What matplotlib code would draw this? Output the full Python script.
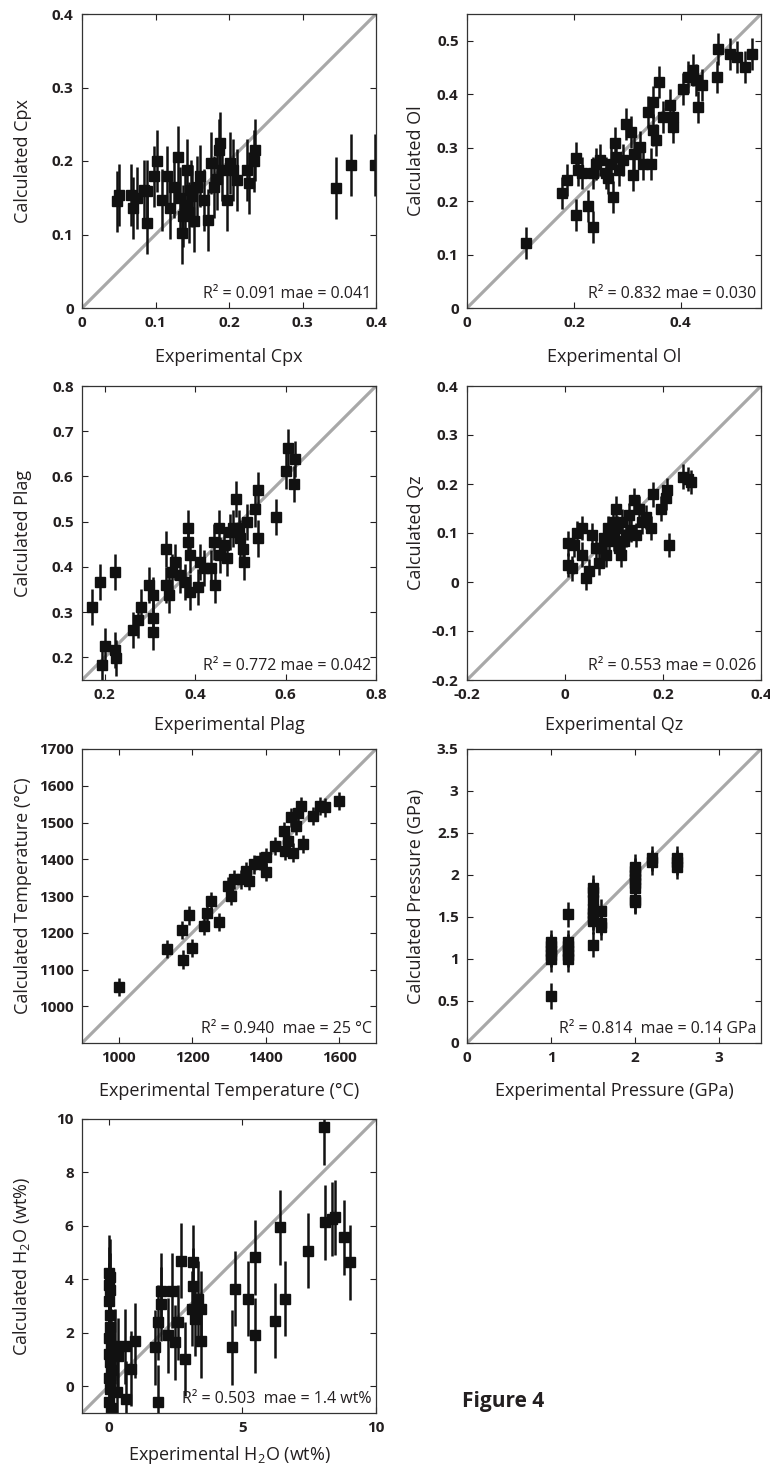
import matplotlib
matplotlib.use('Agg')
import matplotlib.pyplot as plt

plt.rcParams['font.family'] = ['Open Sans', 'DejaVu Sans']
plt.rcParams['mathtext.fontset'] = 'custom'
plt.rcParams['mathtext.rm'] = 'Open Sans'
plt.rcParams['mathtext.it'] = 'Open Sans'
plt.rcParams['mathtext.bf'] = 'Open Sans:bold'

ink = '#231f20'

# --- Cpx ---
cpx_exp = [0.047, 0.050, 0.066, 0.070, 0.075, 0.084, 0.088, 0.088, 0.098, 0.102, 0.109, 0.116,
           0.120, 0.125, 0.131, 0.134, 0.136, 0.138, 0.140, 0.143, 0.145, 0.148, 0.150, 0.152,
           0.156, 0.160, 0.166, 0.172, 0.175, 0.179, 0.183, 0.186, 0.188, 0.190, 0.197, 0.202,
           0.206, 0.211, 0.224, 0.227, 0.234, 0.236, 0.345, 0.366, 0.399]
cpx_calc = [0.145, 0.154, 0.154, 0.136, 0.150, 0.160, 0.159, 0.115, 0.179, 0.200, 0.147, 0.179,
            0.136, 0.165, 0.206, 0.150, 0.102, 0.125, 0.140, 0.188, 0.130, 0.160, 0.152, 0.118,
            0.165, 0.180, 0.147, 0.120, 0.197, 0.165, 0.175, 0.215, 0.224, 0.188, 0.147, 0.197,
            0.188, 0.174, 0.188, 0.170, 0.200, 0.215, 0.163, 0.195, 0.195]
cpx_err = 0.042

# --- Ol ---
ol_exp = [0.110, 0.178, 0.188, 0.204, 0.204, 0.207, 0.216, 0.226, 0.235, 0.235, 0.241, 0.248,
          0.260, 0.263, 0.270, 0.273, 0.276, 0.279, 0.285, 0.291, 0.298, 0.307, 0.310, 0.313,
          0.323, 0.329, 0.339, 0.345, 0.348, 0.348, 0.353, 0.360, 0.367, 0.379, 0.386, 0.386,
          0.404, 0.414, 0.423, 0.429, 0.433, 0.439, 0.467, 0.470, 0.492, 0.505, 0.520, 0.533]
ol_calc = [0.122, 0.215, 0.240, 0.174, 0.280, 0.258, 0.252, 0.190, 0.152, 0.252, 0.270, 0.277,
           0.252, 0.243, 0.270, 0.208, 0.308, 0.283, 0.258, 0.277, 0.345, 0.330, 0.249, 0.289,
           0.302, 0.270, 0.367, 0.270, 0.386, 0.333, 0.314, 0.423, 0.358, 0.379, 0.358, 0.339,
           0.410, 0.432, 0.445, 0.426, 0.376, 0.417, 0.433, 0.485, 0.476, 0.470, 0.451, 0.476]
ol_err = 0.03

# --- Plag ---
plag_exp = [0.172, 0.190, 0.194, 0.200, 0.222, 0.222, 0.226, 0.263, 0.274, 0.281, 0.299, 0.306,
            0.306, 0.306, 0.335, 0.335, 0.342, 0.349, 0.356, 0.367, 0.378, 0.385, 0.385, 0.388,
            0.388, 0.406, 0.410, 0.420, 0.435, 0.442, 0.445, 0.452, 0.455, 0.463, 0.470, 0.477,
            0.484, 0.491, 0.498, 0.500, 0.505, 0.508, 0.515, 0.533, 0.540, 0.540, 0.578, 0.601,
            0.605, 0.619, 0.622]
plag_calc = [0.312, 0.366, 0.184, 0.226, 0.389, 0.217, 0.199, 0.261, 0.283, 0.312, 0.360, 0.338,
             0.287, 0.257, 0.440, 0.360, 0.338, 0.389, 0.411, 0.382, 0.367, 0.485, 0.455, 0.426,
             0.345, 0.356, 0.411, 0.397, 0.397, 0.455, 0.360, 0.485, 0.426, 0.448, 0.419, 0.477,
             0.485, 0.551, 0.485, 0.463, 0.440, 0.411, 0.500, 0.529, 0.569, 0.463, 0.510, 0.613,
             0.664, 0.584, 0.639]
plag_err = 0.04

# --- Qz ---
qz_exp = [0.007, 0.007, 0.015, 0.018, 0.025, 0.035, 0.035, 0.042, 0.049, 0.056, 0.063, 0.070,
          0.073, 0.080, 0.083, 0.087, 0.090, 0.097, 0.100, 0.104, 0.107, 0.110, 0.114, 0.117,
          0.120, 0.124, 0.131, 0.135, 0.141, 0.145, 0.151, 0.158, 0.165, 0.175, 0.179, 0.196,
          0.206, 0.209, 0.213, 0.240, 0.250, 0.257]
qz_calc = [0.079, 0.035, 0.028, 0.076, 0.100, 0.110, 0.056, 0.008, 0.022, 0.096, 0.069, 0.039,
           0.069, 0.089, 0.056, 0.110, 0.083, 0.123, 0.089, 0.150, 0.110, 0.069, 0.056, 0.123,
           0.083, 0.096, 0.137, 0.106, 0.167, 0.096, 0.150, 0.123, 0.133, 0.110, 0.179, 0.150,
           0.171, 0.188, 0.076, 0.215, 0.210, 0.204]
qz_err = 0.025

# --- Temperature ---
t_exp = [1000, 1131, 1172, 1175, 1190, 1200, 1232, 1241, 1250, 1273, 1296, 1305, 1314, 1332,
         1346, 1355, 1369, 1383, 1401, 1401, 1424, 1451, 1453, 1460, 1469, 1474, 1483, 1487,
         1497, 1502, 1529, 1548, 1561, 1600]
t_calc = [1053, 1156, 1207, 1127, 1247, 1159, 1218, 1255, 1286, 1229, 1327, 1300, 1345, 1345,
          1368, 1341, 1386, 1395, 1405, 1365, 1436, 1477, 1423, 1450, 1514, 1418, 1491, 1527,
          1545, 1441, 1518, 1545, 1541, 1559]
t_err = 25
t_xerr = 12

# --- Pressure ---
p_exp = [1.0, 1.0, 1.0, 1.0, 1.0, 1.0, 1.2, 1.2, 1.2, 1.2, 1.2, 1.2, 1.5, 1.5, 1.5, 1.5, 1.5,
         1.5, 1.5, 1.5, 1.6, 1.6, 1.6, 2.0, 2.0, 2.0, 2.0, 2.0, 2.0, 2.0, 2.0, 2.2, 2.2, 2.5,
         2.5, 2.5]
p_calc = [0.56, 1.00, 1.05, 1.10, 1.15, 1.20, 1.53, 1.00, 1.05, 1.10, 1.15, 1.20, 1.17, 1.45,
          1.50, 1.55, 1.60, 1.70, 1.80, 1.85, 1.38, 1.43, 1.57, 1.68, 1.70, 1.85, 1.90, 1.95,
          2.00, 2.05, 2.10, 2.15, 2.20, 2.10, 2.15, 2.20]
p_err = 0.15

# --- H2O ---
h2o_exp = [0.00, 0.05, 0.00, 0.05, 0.00, 0.03, 0.05, 0.00, 0.08, 0.00, 0.05, 0.10, 0.00, 0.05,
           0.00, 0.08, 0.22, 0.35, 0.30, 0.60, 0.66, 0.85, 0.97, 1.72, 1.85, 1.85, 1.95, 1.97,
           2.22, 2.35, 2.47, 2.60, 2.72, 2.85, 3.10, 3.16, 3.16, 3.22, 3.35, 3.47, 3.47, 4.60,
           4.72, 5.22, 5.47, 5.47, 6.22, 6.41, 6.60, 7.47, 8.04, 8.10, 8.35, 8.47, 8.79, 9.04]
h2o_calc = [4.25, 4.10, 3.80, 3.60, 3.20, 2.65, 2.20, 1.80, 1.50, 1.20, 0.90, 0.60, 0.30, -0.10,
            -0.60, -0.80, 1.50, 1.15, -0.20, 1.50, -0.47, 0.65, 1.70, 1.46, 2.40, -0.60, 3.08,
            3.58, 1.90, 3.58, 1.65, 2.40, 4.70, 1.02, 2.90, 4.64, 3.77, 2.52, 3.27, 2.90, 1.70,
            1.46, 3.65, 3.27, 1.90, 4.83, 2.46, 5.95, 3.27, 5.07, 9.69, 6.13, 6.26, 6.32, 5.57,
            4.64]
h2o_err = 1.4

panels = [
    dict(x=cpx_exp, y=cpx_calc, yerr=cpx_err, xerr=None, lim=(0, 0.4),
         xt=[0, 0.1, 0.2, 0.3, 0.4], yt=[0, 0.1, 0.2, 0.3, 0.4],
         xl='Experimental Cpx', yl='Calculated Cpx', note='R² = 0.091 mae = 0.041'),
    dict(x=ol_exp, y=ol_calc, yerr=ol_err, xerr=None, lim=(0, 0.55),
         xt=[0, 0.2, 0.4], yt=[0, 0.1, 0.2, 0.3, 0.4, 0.5],
         xl='Experimental Ol', yl='Calculated Ol', note='R² = 0.832 mae = 0.030'),
    dict(x=plag_exp, y=plag_calc, yerr=plag_err, xerr=None, lim=(0.15, 0.8),
         xt=[0.2, 0.4, 0.6, 0.8], yt=[0.2, 0.3, 0.4, 0.5, 0.6, 0.7, 0.8],
         xl='Experimental Plag', yl='Calculated Plag', note='R² = 0.772 mae = 0.042'),
    dict(x=qz_exp, y=qz_calc, yerr=qz_err, xerr=None, lim=(-0.2, 0.4),
         xt=[-0.2, 0, 0.2, 0.4], yt=[-0.2, -0.1, 0, 0.1, 0.2, 0.3, 0.4],
         xl='Experimental Qz', yl='Calculated Qz', note='R² = 0.553 mae = 0.026'),
    dict(x=t_exp, y=t_calc, yerr=t_err, xerr=t_xerr, lim=(900, 1700),
         xt=[1000, 1200, 1400, 1600], yt=[1000, 1100, 1200, 1300, 1400, 1500, 1600, 1700],
         xl='Experimental Temperature (°C)', yl='Calculated Temperature (°C)',
         note='R² = 0.940  mae = 25 °C'),
    dict(x=p_exp, y=p_calc, yerr=p_err, xerr=None, lim=(0, 3.5),
         xt=[0, 1, 2, 3], yt=[0, 0.5, 1, 1.5, 2, 2.5, 3, 3.5],
         xl='Experimental Pressure (GPa)', yl='Calculated Pressure (GPa)',
         note='R² = 0.814  mae = 0.14 GPa'),
    dict(x=h2o_exp, y=h2o_calc, yerr=h2o_err, xerr=None, lim=(-1, 10),
         xt=[0, 5, 10], yt=[0, 2, 4, 6, 8, 10],
         xl='Experimental H$_2$O (wt%)', yl='Calculated H$_2$O (wt%)',
         note='R² = 0.503  mae = 1.4 wt%'),
]

fig = plt.figure(figsize=(7.7, 14.69), dpi=100)
W, H = 770, 1469
lefts = [82, 467]
bottoms = [308, 680, 1043, 1413]
size = 294
ylab_gap = [50, 42]        # px from axes left edge to the right side of the y label
xlab_gap = [40, 36, 39, 31]  # px from axes bottom to top of the x label, per row

for i, p in enumerate(panels):
    col = i % 2
    row = i // 2
    ax = fig.add_axes([lefts[col] / W, 1 - bottoms[row] / H, size / W, size / H])
    ax.plot(p['lim'], p['lim'], color='#a8a8a8', lw=2.3, zorder=1)
    ax.errorbar(p['x'], p['y'], yerr=p['yerr'], xerr=p['xerr'], fmt='s', color='#111111',
                ms=7.5, elinewidth=1.8, capsize=0, zorder=2)
    ax.set_xlim(p['lim'])
    ax.set_ylim(p['lim'])
    ax.set_xticks(p['xt'])
    ax.set_yticks(p['yt'])
    ax.set_xticklabels(['%g' % v for v in p['xt']])
    ax.set_yticklabels(['%g' % v for v in p['yt']])
    ax.tick_params(direction='in', top=True, right=True, length=4, width=0.8, pad=6,
                   labelsize=11, colors=ink)
    for lab in ax.get_xticklabels() + ax.get_yticklabels():
        lab.set_fontweight('bold')
    for s in ax.spines.values():
        s.set_linewidth(0.9)
        s.set_color('#333333')
    ax.set_xlabel(p['xl'], fontsize=13, color=ink, fontweight='medium')
    ax.set_ylabel(p['yl'], fontsize=13, color=ink, fontweight='medium')
    ax.xaxis.set_label_coords(0.5, -xlab_gap[row] / size)
    ax.yaxis.set_label_coords(-ylab_gap[col] / size, 0.5)
    ax.text(0.985, 0.02, p['note'], transform=ax.transAxes, ha='right', va='bottom',
            fontsize=11.5, color=ink, fontweight='medium')

fig.text(462 / W, 1 - 1402 / H, 'Figure 4', fontsize=15, fontweight='bold', color=ink,
         ha='left', va='center')

fig.savefig('out.png', dpi=100)
